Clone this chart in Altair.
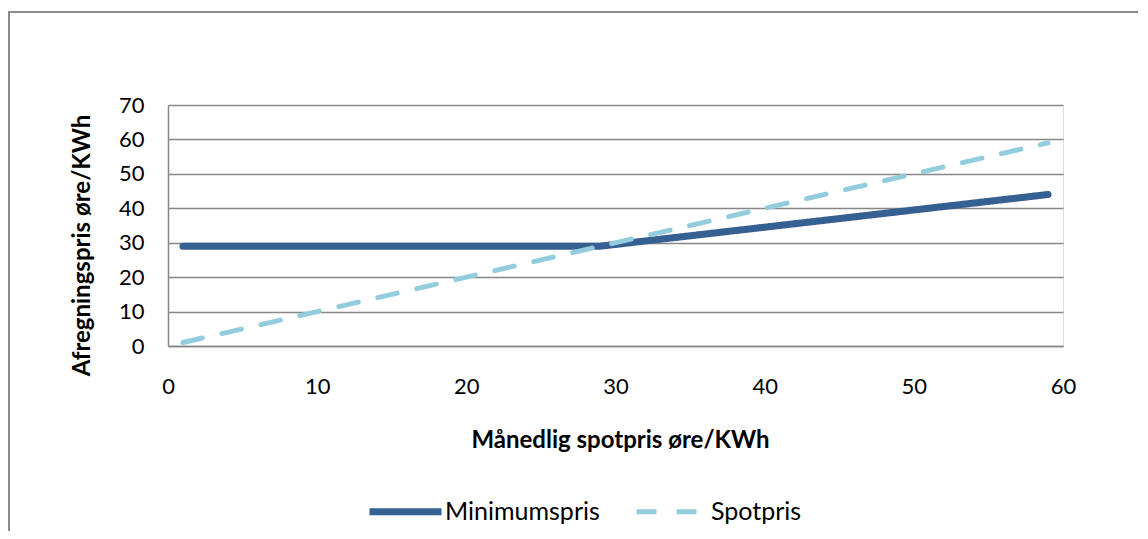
import altair as alt
import pandas as pd

# Data
min_x = [1, 29, 59]
min_y = [29, 29, 44]
spot_x = [1, 59]
spot_y = [1, 59]
series = ["Minimumspris", "Spotpris"]
colors = ["#376092", "#93CDDD"]

rows = []
for x, y in zip(min_x, min_y):
    rows.append({"serie": series[0], "x": x, "y": y})
for x, y in zip(spot_x, spot_y):
    rows.append({"serie": series[1], "x": x, "y": y})
df = pd.DataFrame(rows)

FONT = "Lato"
GRID = "#878787"

lines = alt.Chart(df).mark_line(strokeCap="round", clip=False).encode(
    x=alt.X("x:Q",
            scale=alt.Scale(domain=[0, 60], nice=False, zero=False),
            axis=alt.Axis(values=[0, 10, 20, 30, 40, 50, 60], grid=False, ticks=False,
                          domain=True, domainColor=GRID, domainWidth=1.5, labelFlush=False,
                          labelPadding=30, labelFontSize=22, labelFont=FONT, labelColor="#000",
                          title="Månedlig spotpris øre/KWh", titleFont=FONT, titleFontSize=24,
                          titleFontWeight="bold", titleColor="#000",
                          titleX=452, titleY=94, titleAlign="center",
                          titleBaseline="middle")),
    y=alt.Y("y:Q",
            scale=alt.Scale(domain=[0, 70], nice=False),
            axis=alt.Axis(values=[0, 10, 20, 30, 40, 50, 60, 70], grid=True, gridColor=GRID,
                          gridWidth=1.5, ticks=False, domain=True, domainColor=GRID,
                          domainWidth=1.5, labelPadding=24, labelFontSize=22, labelFont=FONT,
                          labelColor="#000", labelFlush=False,
                          title="Afregningspris øre/KWh", titleFont=FONT, titleFontSize=24,
                          titleFontWeight="bold", titleColor="#000", titleAngle=-90,
                          titleX=-79, titleY=140, titleAlign="center",
                          titleBaseline="alphabetic")),
    color=alt.Color("serie:N", scale=alt.Scale(domain=series, range=colors),
                    legend=alt.Legend(title=None, orient="none", direction="horizontal",
                                      legendX=198, legendY=367, symbolType="stroke",
                                      symbolSize=5184, labelFont=FONT, labelFontSize=25,
                                      labelColor="#000", columnPadding=26, labelOffset=0,
                                      padding=0)),
    strokeDash=alt.StrokeDash("serie:N",
                              scale=alt.Scale(domain=series, range=[[1, 0], [20, 20]]),
                              legend=None),
    strokeWidth=alt.StrokeWidth("serie:N",
                                scale=alt.Scale(domain=series, range=[7, 5]),
                                legend=None),
    order=alt.Order("x:Q"),
)

frame = alt.Chart(alt.Data(values=[{"a": 1}])).mark_rect(
    fill=None, stroke="#8c8c8c", strokeWidth=2, clip=False
).encode(
    x=alt.value(-159), x2=alt.value(971), y=alt.value(-93), y2=alt.value(460)
)

chart = alt.layer(frame, lines).properties(
    width=895, height=241,
    autosize=alt.AutoSizeParams(type="none"),
    padding={"left": 160, "top": 97, "right": 75, "bottom": 185},
).configure_view(stroke=None).configure(background="white")

chart.save("out.html", embed_options={"renderer": "svg", "actions": False})
